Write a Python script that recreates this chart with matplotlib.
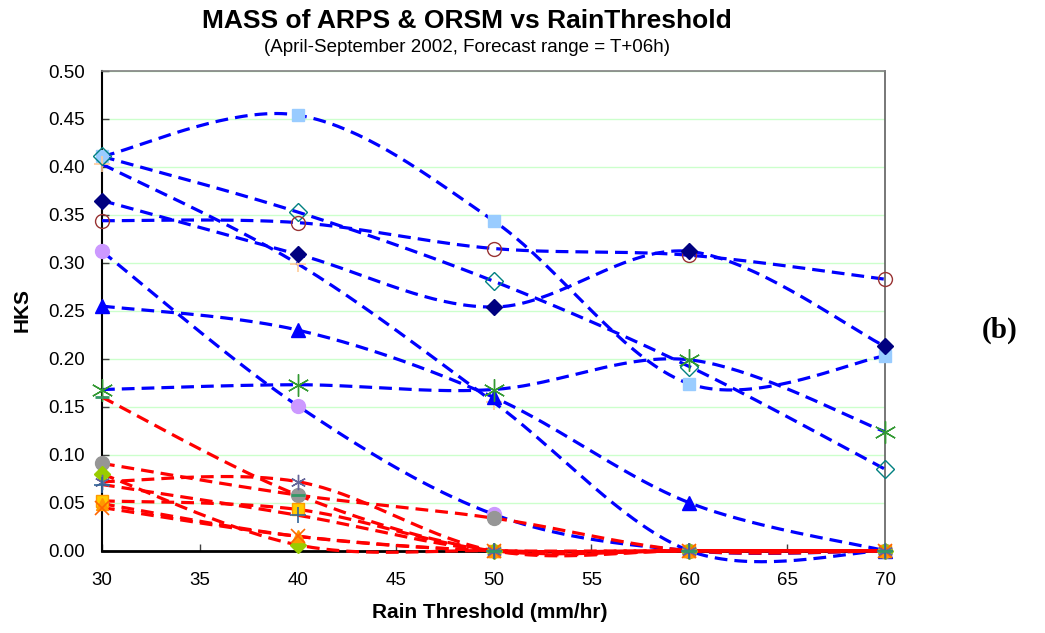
import numpy as np
import matplotlib
matplotlib.use("Agg")
import matplotlib.pyplot as plt

# ---------------- data ----------------
thresholds = [30, 40, 50, 60, 70]

# blue (upper) series
b_lightblue_sq = [0.411, 0.454, 0.344, 0.174, 0.203]
b_teal_diamond = [0.411, 0.353, 0.281, 0.192, 0.085]
b_navy_diamond = [0.365, 0.309, 0.254, 0.312, 0.213]
b_red_circle = [0.344, 0.342, 0.315, 0.308, 0.283]
b_lav_circle = [0.312, 0.151, 0.038, 0.0, 0.0]
b_triangle = [0.255, 0.230, 0.160, 0.050, 0.0]
b_green_star = [0.168, 0.173, 0.168, 0.199, 0.124]
b_peach_plus = [0.403, 0.299, 0.155, 0.0, 0.0]

# red (lower) series
r_teal_dash = [0.160, 0.058, 0.0, 0.0, 0.0]
r_gray_circle = [0.091, 0.058, 0.034, 0.0, 0.0]
r_green_diamond = [0.080, 0.006, 0.0, 0.0, 0.0]
r_slate_star = [0.072, 0.072, 0.0, 0.0, 0.0]
r_slate_plus = [0.069, 0.037, 0.0, 0.0, 0.0]
r_gold_square = [0.052, 0.043, 0.0, 0.0, 0.0]
r_orange_tri = [0.049, 0.015, 0.0, 0.0, 0.0]
r_orange_x = [0.045, 0.015, 0.0, 0.0, 0.0]

yticks = [0.00, 0.05, 0.10, 0.15, 0.20, 0.25, 0.30, 0.35, 0.40, 0.45, 0.50]
xticks = [30, 35, 40, 45, 50, 55, 60, 65, 70]

title = "MASS of ARPS & ORSM vs RainThreshold"
subtitle = "(April-September 2002, Forecast range = T+06h)"
xlabel = "Rain Threshold (mm/hr)"
ylabel = "HKS"
panel = "(b)"

# ---------------- helpers ----------------
def smooth(xs, ys, n=40):
    """Excel-like smoothed line (cubic Bezier with Catmull-Rom control points)."""
    P = np.column_stack([xs, ys]).astype(float)
    m = len(P)
    out = []
    for i in range(m - 1):
        p0 = P[i - 1] if i > 0 else P[i]
        p1 = P[i]
        p2 = P[i + 1]
        p3 = P[i + 2] if i + 2 < m else P[i + 1]
        c1 = p1 + (p2 - p0) / 6.0
        c2 = p2 - (p3 - p1) / 6.0
        t = np.linspace(0, 1, n)[:, None]
        seg = ((1 - t) ** 3) * p1 + 3 * ((1 - t) ** 2) * t * c1 + 3 * (1 - t) * t ** 2 * c2 + t ** 3 * p2
        if i > 0:
            seg = seg[1:]
        out.append(seg)
    out = np.vstack(out)
    return out[:, 0], out[:, 1]

plt.rcParams['font.family'] = ['Liberation Sans', 'DejaVu Sans']

fig = plt.figure(figsize=(10.45, 6.33), dpi=100)
ax = fig.add_axes([0.0976, 0.130, 0.7493, 0.7578])

ax.set_xlim(30, 70)
ax.set_ylim(0, 0.5)

for y in yticks[1:]:
    ax.axhline(y, color='#ccffcc', lw=1.0, zorder=0)

LW = 2.3
DASH = (4.0, 2.2)

def series(vals, color, marker, mfc, mec, ms, mew=1.0, z=3):
    xs, ys = smooth(thresholds, vals)
    ax.plot(xs, ys, color=color, lw=LW, dashes=DASH, zorder=z, clip_on=False,
            solid_capstyle='butt', dash_capstyle='butt')
    ax.plot(thresholds, vals, linestyle='none', marker=marker, markerfacecolor=mfc,
            markeredgecolor=mec, markersize=ms, markeredgewidth=mew, zorder=z + 0.5, clip_on=False)

BLUE = '#0000ff'
RED = '#ff0000'
STAR = (6, 2, 0)

# blue series
series(b_lightblue_sq, BLUE, 's', '#99ccff', '#99ccff', 9, z=3)
series(b_peach_plus, BLUE, '+', '#ffcc99', '#ffcc99', 12, 1.2, z=3.01)
series(b_teal_diamond, BLUE, 'D', 'none', '#008080', 9, 1.0, z=3.02)
series(b_red_circle, BLUE, 'o', 'none', '#993333', 10, 1.0, z=3.03)
series(b_navy_diamond, BLUE, 'D', '#000080', '#000080', 8, z=3.04)
series(b_lav_circle, BLUE, 'o', '#cc99ff', '#cc99ff', 10, z=3.05)
series(b_triangle, BLUE, '^', '#0000ff', '#0000ff', 10, z=3.06)
series(b_green_star, BLUE, STAR, '#339933', '#339933', 16, 1.0, z=3.07)

# red series (drawn on top)
series(r_gray_circle, RED, 'o', '#969696', '#969696', 10, z=4.00)
series(r_gold_square, RED, 's', '#ffcc00', '#ff9900', 9, z=4.01)
series(r_green_diamond, RED, 'D', '#99cc00', '#99cc00', 8, z=4.02)
series(r_orange_tri, RED, '^', '#ff9900', '#ff9900', 9, z=4.03)
series(r_orange_x, RED, 'x', '#ff6600', '#ff6600', 10, 1.2, z=4.04)
series(r_slate_star, RED, STAR, '#666699', '#666699', 11, 1.0, z=4.05)
series(r_slate_plus, RED, '+', '#336699', '#336699', 11, 1.2, z=4.06)
series(r_teal_dash, RED, '_', '#339966', '#339966', 10, 2.0, z=4.07)

# spines
ax.spines['left'].set_color('black')
ax.spines['left'].set_linewidth(1.5)
ax.spines['bottom'].set_color('black')
ax.spines['bottom'].set_linewidth(2.0)
ax.spines['top'].set_color('#808080')
ax.spines['top'].set_linewidth(1.2)
ax.spines['right'].set_color('#606060')
ax.spines['right'].set_linewidth(1.2)
for s in ax.spines.values():
    s.set_zorder(2)

ax.set_xticks(xticks)
ax.set_yticks(yticks)
ax.set_xticklabels([str(v) for v in xticks])
ax.set_yticklabels(["%.2f" % v for v in yticks])
ax.tick_params(axis='both', direction='in', length=5, width=1, color='#404040',
               labelsize=13.5, top=False, right=False)
ax.tick_params(axis='x', pad=15)
ax.tick_params(axis='y', pad=12)

fig.text(467 / 1045, 1 - 21 / 633, title, ha='center', va='center', fontsize=19, fontweight='bold')
fig.text(467 / 1045, 1 - 48 / 633, subtitle, ha='center', va='center', fontsize=13.5)
fig.text(490 / 1045, 1 - 613 / 633, xlabel, ha='center', va='center', fontsize=15, fontweight='bold')
fig.text(22 / 1045, 1 - 310 / 633, ylabel, ha='center', va='center', fontsize=15, fontweight='bold', rotation=90)
fig.text(1000 / 1045, 1 - 330 / 633, panel, ha='center', va='center', fontsize=21, fontweight='bold',
         family=['Liberation Serif', 'DejaVu Serif'])

fig.savefig('out.png', dpi=100)
